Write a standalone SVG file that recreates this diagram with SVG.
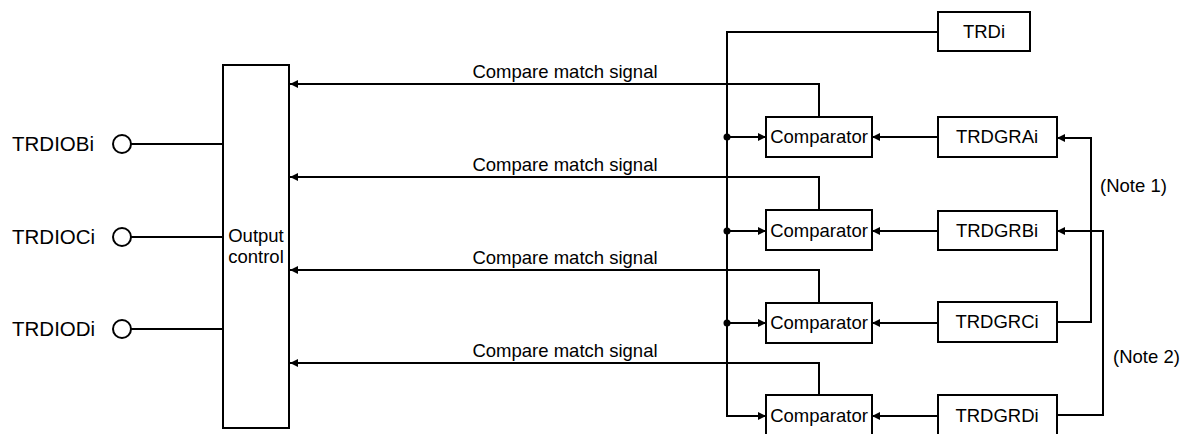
<svg xmlns="http://www.w3.org/2000/svg" width="1187" height="434" viewBox="0 0 1187 434">
<defs>
<style>
.box{fill:#fff;stroke:#000;stroke-width:2}
.ln{fill:none;stroke:#000;stroke-width:2}
.t{font-family:"Liberation Sans",Arial,sans-serif;font-size:18.5px;fill:#000}
.p{font-size:20.5px}
.m{text-anchor:middle}
</style>
<marker id="ah" viewBox="0 0 10 10" refX="10" refY="5" markerWidth="12" markerHeight="8" markerUnits="userSpaceOnUse" orient="auto">
<path d="M0,0 L10,5 L0,10 z" fill="#000"/>
</marker>
</defs>
<g id="connectors">
<path class="ln" d="M131,144 H223"/>
<path class="ln" d="M131,237 H223"/>
<path class="ln" d="M131,329 H223"/>
<path class="ln" d="M819,117 V84 H290" marker-end="url(#ah)"/>
<path class="ln" d="M819,210 V177 H290" marker-end="url(#ah)"/>
<path class="ln" d="M819,303 V270 H290" marker-end="url(#ah)"/>
<path class="ln" d="M819,395 V363 H290" marker-end="url(#ah)"/>
<path class="ln" d="M938,32 H727 V416 H766" marker-end="url(#ah)"/>
<path class="ln" d="M727,137 H766" marker-end="url(#ah)"/>
<path class="ln" d="M727,231 H766" marker-end="url(#ah)"/>
<path class="ln" d="M727,323 H766" marker-end="url(#ah)"/>
<circle cx="727" cy="137" r="3.5"/>
<circle cx="727" cy="231" r="3.5"/>
<circle cx="727" cy="323" r="3.5"/>
<path class="ln" d="M938,137 H872" marker-end="url(#ah)"/>
<path class="ln" d="M938,231 H872" marker-end="url(#ah)"/>
<path class="ln" d="M938,323 H872" marker-end="url(#ah)"/>
<path class="ln" d="M938,416 H872" marker-end="url(#ah)"/>
<path class="ln" d="M1057,322 H1091 V138 H1057" marker-end="url(#ah)"/>
<path class="ln" d="M1057,415 H1103 V231 H1057" marker-end="url(#ah)"/>
<text class="t m" x="565" y="78">Compare match signal</text>
<text class="t m" x="565" y="171">Compare match signal</text>
<text class="t m" x="565" y="264">Compare match signal</text>
<text class="t m" x="565" y="357">Compare match signal</text>
<text class="t" x="1100" y="192">(Note 1)</text>
<text class="t" x="1113" y="363">(Note 2)</text>
</g>
<g id="pins">
<circle class="box" cx="122" cy="144" r="9"/>
<text class="t p" x="12" y="151">TRDIOBi</text>
<circle class="box" cx="122" cy="237" r="9"/>
<text class="t p" x="12" y="244">TRDIOCi</text>
<circle class="box" cx="122" cy="329" r="9"/>
<text class="t p" x="12" y="336">TRDIODi</text>
</g>
<g id="output-control">
<rect class="box" x="223" y="65" width="66" height="363"/>
<text class="t m" x="256" y="242">Output</text>
<text class="t m" x="256" y="263">control</text>
</g>
<g id="trdi">
<rect class="box" x="938" y="12" width="92" height="39"/>
<text class="t m" x="984" y="38">TRDi</text>
</g>
<g id="comp1"><rect class="box" x="766" y="117" width="106" height="40"/><text class="t m" x="819" y="143">Comparator</text></g>
<g id="comp2"><rect class="box" x="766" y="210" width="106" height="40"/><text class="t m" x="819" y="237">Comparator</text></g>
<g id="comp3"><rect class="box" x="766" y="303" width="106" height="40"/><text class="t m" x="819" y="329">Comparator</text></g>
<g id="comp4"><rect class="box" x="766" y="395" width="106" height="45"/><text class="t m" x="819" y="422">Comparator</text></g>
<g id="trdgrai"><rect class="box" x="938" y="117" width="119" height="40"/><text class="t m" x="997" y="143">TRDGRAi</text></g>
<g id="trdgrbi"><rect class="box" x="938" y="211" width="119" height="39"/><text class="t m" x="997" y="237">TRDGRBi</text></g>
<g id="trdgrci"><rect class="box" x="938" y="302" width="119" height="40"/><text class="t m" x="997" y="328">TRDGRCi</text></g>
<g id="trdgrdi"><rect class="box" x="938" y="395" width="119" height="45"/><text class="t m" x="997" y="422">TRDGRDi</text></g>
</svg>
